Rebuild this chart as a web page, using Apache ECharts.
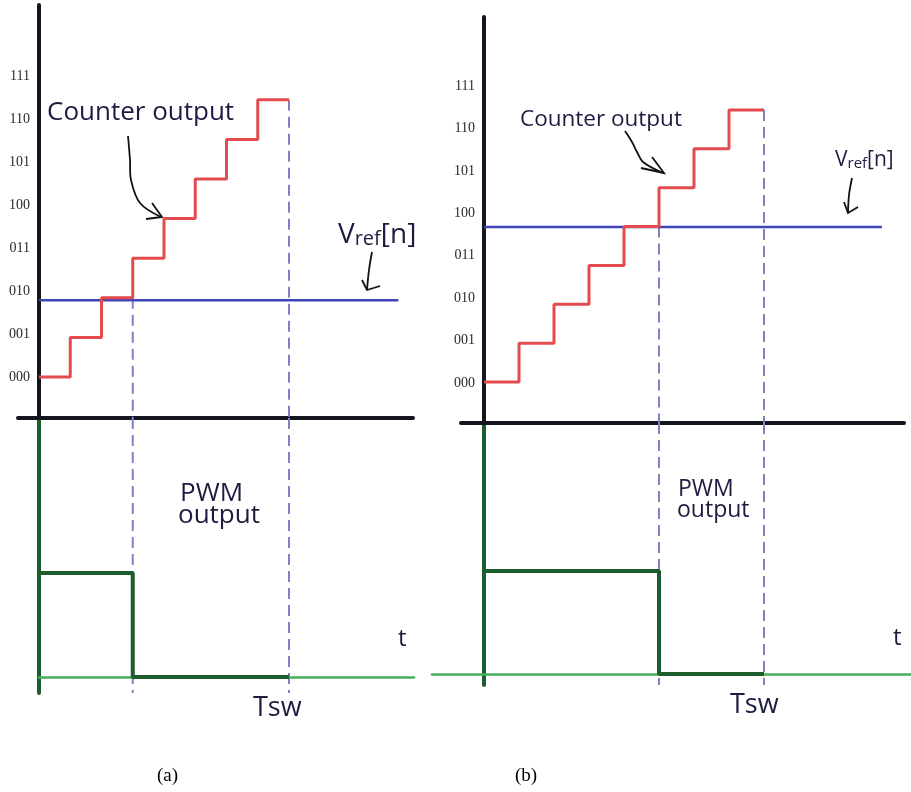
<!DOCTYPE html>
<html>
<head>
<meta charset="utf-8">
<script src="https://cdn.jsdelivr.net/npm/echarts@6/dist/echarts.min.js"></script>
<style>
  html, body { margin: 0; padding: 0; background: #fff; }
  #chart { width: 911px; height: 792px; }
</style>
</head>
<body>
<div id="chart"></div>
<script>
// Counter-based PWM generation: counter staircase vs. reference, and resulting PWM output.
const timeSteps   = [0, 1, 2, 3, 4, 5, 6, 7, 8];
const counterOut  = [0, 1, 2, 3, 4, 5, 6, 7, 7];
const codeLabels  = ['000', '001', '010', '011', '100', '101', '110', '111'];

// (a) reference at about 010, (b) reference at about 100
const vrefA = 1.94, vrefEndA = 11.5;
const vrefB = 3.99, vrefEndB = 11.37;

// PWM output: high until the counter passes the reference, low until Tsw
const pwmTimesA = [0, 3, 8];
const pwmA      = [1, 0, 0];
const pwmTimesB = [0, 5, 8];
const pwmB      = [1, 0, 0];

// switching instants (counter crossing, period end Tsw)
const switchA = [3, 8];
const switchB = [5, 8];

const INK   = '#1c1c40';
const AXIS  = '#15151f';
const RED   = '#e34b4f';
const BLUE  = '#3f44b8';
const DASH  = '#7f82c2';
const DKGRN = '#1d5c2b';
const LTGRN = '#46ae57';

// Panel geometry (pixels): time origin and scale, plus extents of each plot area
const layoutA = {
  x0: 39, sx: 31.25,
  top:    { y0: 377, sy: 39.6, left: 18, right: 413, top: 5,   bottom: 418 },
  labels: { y0: 377, sy: 43 },
  low:    { y0: 677, sy: 104,  left: 39, right: 414, top: 418, bottom: 693 }
};
const layoutB = {
  x0: 484, sx: 35,
  top:    { y0: 382, sy: 38.86, left: 461, right: 904, top: 17,  bottom: 423 },
  labels: { y0: 383, sy: 42.4 },
  low:    { y0: 674, sy: 103,   left: 432, right: 911, top: 423, bottom: 685 }
};

const grid = [], xAxis = [], yAxis = [], series = [];

function addGrid(g) { grid.push(g); return grid.length - 1; }

function buildPanel(L, vref, vrefEnd, pwmTimes, pwm, switches) {
  // ---- counter plot ----
  const T = L.top;
  const tx = { min: (T.left - L.x0) / L.sx, max: (T.right - L.x0) / L.sx };
  const ty = { min: (T.y0 - T.bottom) / T.sy, max: (T.y0 - T.top) / T.sy };
  const gTop = addGrid({ left: T.left, top: T.top, width: T.right - T.left, height: T.bottom - T.top });
  xAxis.push({
    gridIndex: gTop, type: 'value', min: tx.min, max: tx.max,
    axisLine: { onZero: false, lineStyle: { color: AXIS, width: 4, cap: 'round' } },
    axisTick: { show: false }, axisLabel: { show: false }, splitLine: { show: false }
  });
  yAxis.push({
    gridIndex: gTop, type: 'value', min: ty.min, max: ty.max,
    axisLine: { onZero: true, lineStyle: { color: AXIS, width: 4, cap: 'round' } },
    axisTick: { show: false }, axisLabel: { show: false }, splitLine: { show: false }
  });
  const axTop = xAxis.length - 1;

  // ---- code labels 000..111 ----
  const Lb = L.labels;
  const gLab = addGrid({ left: L.x0, top: Lb.y0 - 7 * Lb.sy, width: 10, height: 7 * Lb.sy });
  xAxis.push({ gridIndex: gLab, type: 'value', min: 0, max: 1, show: false });
  yAxis.push({
    gridIndex: gLab, type: 'value', min: 0, max: 7, interval: 1,
    axisLine: { show: false }, axisTick: { show: false }, splitLine: { show: false },
    axisLabel: {
      margin: 9, color: '#2a2a2a', fontFamily: 'Liberation Serif', fontSize: 14,
      formatter: v => codeLabels[v] || ''
    }
  });

  // ---- PWM plot ----
  const B = L.low;
  const bx = { min: (B.left - L.x0) / L.sx, max: (B.right - L.x0) / L.sx };
  const by = { min: (B.y0 - B.bottom) / B.sy, max: (B.y0 - B.top) / B.sy };
  const gLow = addGrid({ left: B.left, top: B.top, width: B.right - B.left, height: B.bottom - B.top });
  xAxis.push({
    gridIndex: gLow, type: 'value', min: bx.min, max: bx.max,
    axisLine: { onZero: true, lineStyle: { color: LTGRN, width: 2.5 } },
    axisTick: { show: false }, axisLabel: { show: false }, splitLine: { show: false }
  });
  yAxis.push({
    gridIndex: gLow, type: 'value', min: by.min, max: by.max,
    axisLine: { onZero: true, lineStyle: { color: DKGRN, width: 4, cap: 'round' } },
    axisTick: { show: false }, axisLabel: { show: false }, splitLine: { show: false }
  });
  const axLow = xAxis.length - 1;

  const common = { type: 'line', symbol: 'none', silent: true, animation: false };

  // dashed switching markers through both plots
  switches.forEach(t => {
    series.push(Object.assign({}, common, {
      xAxisIndex: axTop, yAxisIndex: axTop, z: 1,
      data: [[t, counterOut[t - 1]], [t, ty.min]],
      lineStyle: { color: DASH, width: 2, type: [11, 6] }
    }));
    series.push(Object.assign({}, common, {
      xAxisIndex: axLow, yAxisIndex: axLow, z: 1,
      data: [[t, by.max], [t, by.min]],
      lineStyle: { color: DASH, width: 2, type: [11, 6] }
    }));
  });

  // reference level Vref[n]
  series.push(Object.assign({}, common, {
    xAxisIndex: axTop, yAxisIndex: axTop, z: 3,
    data: [[0, vref], [vrefEnd, vref]],
    lineStyle: { color: BLUE, width: 2.5 }
  }));

  // counter staircase
  series.push(Object.assign({}, common, {
    xAxisIndex: axTop, yAxisIndex: axTop, z: 4, step: 'end',
    data: timeSteps.map((t, i) => [t, counterOut[i]]),
    lineStyle: { color: RED, width: 3 }
  }));

  // PWM waveform
  series.push(Object.assign({}, common, {
    xAxisIndex: axLow, yAxisIndex: axLow, z: 4, step: 'end',
    data: pwmTimes.map((t, i) => [t, pwm[i]]),
    lineStyle: { color: DKGRN, width: 4 }
  }));
}

buildPanel(layoutA, vrefA, vrefEndA, pwmTimesA, pwmA, switchA);
buildPanel(layoutB, vrefB, vrefEndB, pwmTimesB, pwmB, switchB);

// ---- annotations ----
function txt(text, x, baseline, size, family, color) {
  return {
    type: 'text', x: x, y: baseline - 0.36 * size, z: 10, silent: true,
    style: {
      text: text, fill: color || INK,
      font: size + 'px ' + (family || '"Open Sans"'),
      align: 'left', verticalAlign: 'middle',
      textAlign: 'left', textVerticalAlign: 'middle'
    }
  };
}
function vrefText(x, baseline, big, small) {
  return {
    type: 'text', x: x, y: baseline - 0.36 * big, z: 10, silent: true,
    style: {
      text: '{v|V}{s|ref}{v|[n]}', fill: INK,
      align: 'left', verticalAlign: 'middle',
      textAlign: 'left', textVerticalAlign: 'middle',
      rich: {
        v: { fontSize: big, fontFamily: 'Open Sans', fill: INK, verticalAlign: 'bottom' },
        s: { fontSize: small, fontFamily: 'Open Sans', fill: INK, verticalAlign: 'bottom' }
      }
    }
  };
}
function stroke(points) {
  return { type: 'polyline', z: 10, silent: true, shape: { points: points, smooth: 0.35 },
           style: { stroke: '#111', lineWidth: 1.8, fill: null } };
}
function head(points) {
  return { type: 'polyline', z: 10, silent: true, shape: { points: points },
           style: { stroke: '#111', lineWidth: 1.8, fill: null } };
}

const graphic = [
  // (a)
  txt('Counter output', 47, 122, 26),
  stroke([[128, 136], [130, 160], [131, 180], [140, 203], [161, 217]]),
  head([[152, 203], [162, 217], [146, 219]]),
  vrefText(338, 245, 28, 20),
  stroke([[372, 252], [369, 270], [367, 290]]),
  head([[362, 280], [367, 290], [380, 286]]),
  txt('PWM', 180, 503, 26),
  txt('output', 178, 525, 26),
  txt('t', 398, 648, 24),
  txt('Tsw', 253, 718, 27),
  txt('(a)', 157, 783, 19, '"Liberation Serif"', '#000'),
  // (b)
  txt('Counter output', 520, 128, 22.5),
  stroke([[625, 131], [632, 142], [637, 152], [643, 162], [663, 173]]),
  head([[652, 157], [664, 173], [641, 168]]),
  vrefText(835, 168, 21, 15),
  stroke([[852, 178], [849, 195], [848, 213]]),
  head([[844, 202], [848, 213], [858, 207]]),
  txt('PWM', 678, 498, 23),
  txt('output', 677, 519, 23),
  txt('t', 893, 647, 24),
  txt('Tsw', 730, 715, 27),
  txt('(b)', 515, 783, 19, '"Liberation Serif"', '#000')
];

const chart = echarts.init(document.getElementById('chart'), null, { renderer: 'canvas' });
chart.setOption({
  backgroundColor: '#ffffff',
  animation: false,
  grid: grid,
  xAxis: xAxis,
  yAxis: yAxis,
  series: series,
  graphic: graphic
});
</script>
</body>
</html>
